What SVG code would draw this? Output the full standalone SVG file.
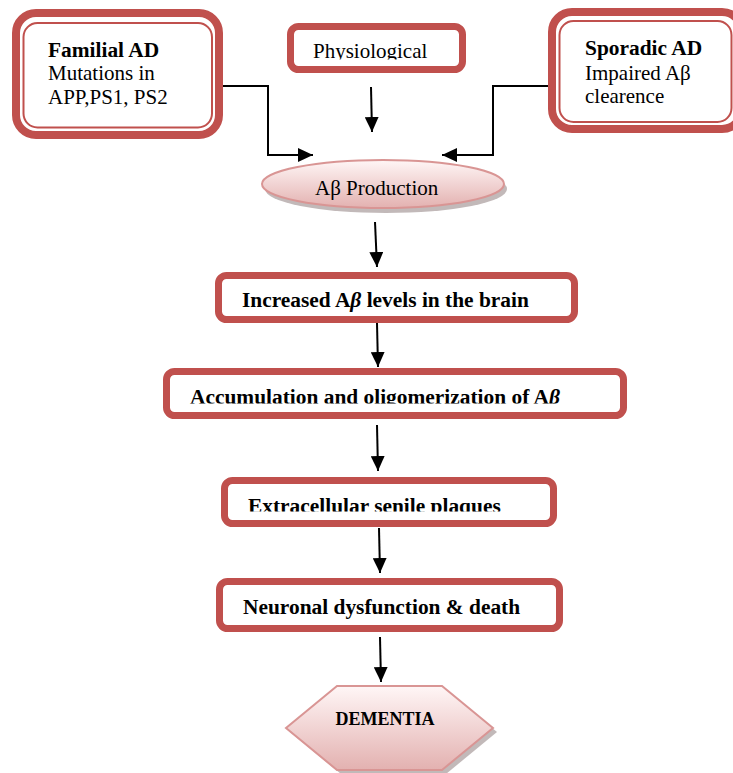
<svg xmlns="http://www.w3.org/2000/svg" width="733" height="773" viewBox="0 0 733 773">
<defs>
<style>
.thick{fill:#fff;stroke:#c0504d;stroke-width:8}
.thin{fill:none;stroke:#c0504d;stroke-width:2}
.box{fill:#fff;stroke:#c0504d;stroke-width:7}
.t{font-family:"Liberation Serif","Times New Roman",serif;font-size:21px;fill:#000}
.b{font-weight:bold;font-size:21.4px}
.conn{fill:none;stroke:#000;stroke-width:2}
.soft{stroke:#d99594;stroke-width:2}
.shadow{fill:#8f7f7f;opacity:0.55}
</style>
<linearGradient id="pink" x1="0" y1="0" x2="0" y2="1">
<stop offset="0" stop-color="#fff6f6"/>
<stop offset="1" stop-color="#e3b1b0"/>
</linearGradient>
<marker id="arr" viewBox="0 0 15 14" refX="15" refY="7" markerWidth="15" markerHeight="14" markerUnits="userSpaceOnUse" orient="auto">
<path d="M0,0 L15,7 L0,14 z" fill="#000"/>
</marker>
<clipPath id="cPhys"><rect x="290" y="20" width="175" height="39.5"/></clipPath>
<clipPath id="cAcc"><rect x="166" y="370" width="458" height="33.5"/></clipPath>
<clipPath id="cExt"><rect x="224" y="480" width="330" height="31.5"/></clipPath>
</defs>

<g id="connectors">
<polyline class="conn" points="222,86 268,86 268,155 313,155" marker-end="url(#arr)"/>
<polyline class="conn" points="549,86 493,86 493,155 442,155" marker-end="url(#arr)"/>
<line class="conn" x1="371" y1="87" x2="372" y2="132" marker-end="url(#arr)"/>
<line class="conn" x1="375" y1="222" x2="377" y2="267" marker-end="url(#arr)"/>
<line class="conn" x1="377" y1="323" x2="378" y2="367" marker-end="url(#arr)"/>
<line class="conn" x1="377" y1="425" x2="378" y2="471" marker-end="url(#arr)"/>
<line class="conn" x1="379" y1="528" x2="380" y2="573" marker-end="url(#arr)"/>
<line class="conn" x1="380" y1="637" x2="381" y2="682" marker-end="url(#arr)"/>
</g>

<g id="familial">
<rect class="thick" x="16" y="13" width="203" height="122" rx="20"/>
<rect class="thin" x="23.5" y="23" width="188.5" height="104.5" rx="14"/>
<text class="t b" x="48" y="57">Familial AD</text>
<text class="t" x="48" y="80">Mutations in</text>
<text class="t" x="48" y="104">APP,PS1, PS2</text>
</g>

<g id="physiological">
<rect class="box" x="290.5" y="26.5" width="172" height="43" rx="8"/>
<text class="t" x="313" y="58" clip-path="url(#cPhys)">Physiological</text>
</g>

<g id="sporadic">
<rect class="thick" x="552" y="12" width="190" height="117" rx="20"/>
<rect class="thin" x="559.5" y="21" width="172" height="101" rx="14"/>
<text class="t b" x="585" y="55">Sporadic AD</text>
<text class="t" x="585" y="80">Impaired Aβ</text>
<text class="t" x="585" y="103">clearence</text>
</g>

<g id="production">
<ellipse class="shadow" cx="386" cy="189" rx="121" ry="24"/>
<ellipse cx="383" cy="184" rx="121" ry="24" fill="url(#pink)" class="soft"/>
<text class="t" x="315" y="195">Aβ Production</text>
</g>

<g id="increased">
<rect class="box" x="218.5" y="275.5" width="356" height="44" rx="8"/>
<text class="t b" x="242" y="307">Increased A<tspan font-style="italic">β</tspan> levels in the brain</text>
</g>

<g id="accumulation">
<rect class="box" x="166.5" y="371.5" width="457" height="44" rx="8"/>
<text class="t b" x="190" y="404" clip-path="url(#cAcc)">Accumulation and oligomerization of A<tspan font-style="italic">β</tspan></text>
</g>

<g id="extracellular">
<rect class="box" x="224.5" y="480.5" width="329" height="43" rx="8"/>
<text class="t b" x="248" y="513" clip-path="url(#cExt)">Extracellular senile plaques</text>
</g>

<g id="neuronal">
<rect class="box" x="219.5" y="581.5" width="340" height="47" rx="8"/>
<text class="t b" x="243" y="614">Neuronal dysfunction &amp; death</text>
</g>

<g id="dementia">
<polygon class="shadow" points="341,690 446,690 497,732 446,774 341,774 290,732"/>
<polygon points="337,686 442,686 493,728 442,770 337,770 286,728" fill="url(#pink)" class="soft"/>
<text class="t b" x="385" y="725" text-anchor="middle" style="font-size:18px">DEMENTIA</text>
</g>
</svg>
